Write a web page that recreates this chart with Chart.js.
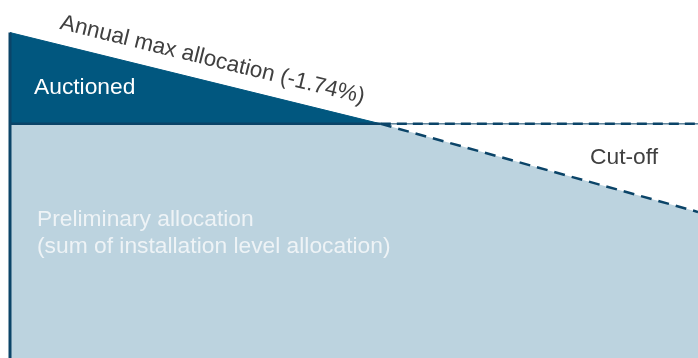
<!DOCTYPE html>
<html>
<head>
<meta charset="utf-8">
<script src="https://cdn.jsdelivr.net/npm/chart.js@4"></script>
<style>
  html, body { margin: 0; padding: 0; background: #ffffff; }
  canvas { display: block; }
</style>
</head>
<body>
<canvas id="chart" width="698" height="358"></canvas>
<script>
// Eje x: periodo (0 = inicio, corte = fin de la subasta, 100 = final)
const startPeriod = 0;
const cutPeriod = 53.9;
const endPeriod = 100;

// Series
const maxAllocation = [90.9, 65.4];          // en startPeriod y cutPeriod
const preliminary = [65.4, 65.4, 40.8];      // en start, cut y end
const cutOffLevel = [65.4, 65.4];            // en cutPeriod y endPeriod

// Textos
const auctionedLabel = "Auctioned";
const slopeLabel = "Annual max allocation (-1.74%)";
const preliminaryLabel = ["Preliminary allocation", "(sum of installation level allocation)"];
const cutOffLabel = "Cut-off";

const DARK = "#01577f";
const EDGE = "#0b4468";
const LIGHT = "#bcd3df";
const FONT = "22.8px 'Liberation Sans', Arial, sans-serif";
const SLOPE_FONT = "22.5px 'Liberation Sans', Arial, sans-serif";

// Plugin para dibujar los textos sobre el gráfico
const textPlugin = {
    id: "texts",
    afterDatasetsDraw(chart) {
        const ctx = chart.ctx;
        const x = chart.scales.x;
        const y = chart.scales.y;
        ctx.save();
        ctx.font = FONT;
        ctx.textBaseline = "alphabetic";
        ctx.textAlign = "left";

        ctx.fillStyle = "#ffffff";
        ctx.fillText(auctionedLabel, 34, 94);

        ctx.fillStyle = "#eef3f6";
        ctx.fillText(preliminaryLabel[0], 37, 226);
        ctx.fillText(preliminaryLabel[1], 37, 253);

        ctx.fillStyle = "#404040";
        ctx.fillText(cutOffLabel, 590, 164);

        // Texto inclinado siguiendo la línea de asignación máxima
        const x0 = x.getPixelForValue(startPeriod), y0 = y.getPixelForValue(maxAllocation[0]);
        const x1 = x.getPixelForValue(cutPeriod), y1 = y.getPixelForValue(maxAllocation[1]);
        const angle = Math.atan2(y1 - y0, x1 - x0);
        const ax = 55.4;
        const ay = y0 + (ax - x0) * (y1 - y0) / (x1 - x0);
        ctx.font = SLOPE_FONT;
        ctx.translate(ax, ay);
        ctx.rotate(angle);
        ctx.fillText(slopeLabel, 0, -15.5);
        ctx.restore();
    }
};

new Chart(document.getElementById("chart"), {
    type: "line",
    data: {
        datasets: [
            {
                // línea vertical izquierda
                data: [{ x: startPeriod, y: 0 }, { x: startPeriod, y: maxAllocation[0] }],
                borderColor: EDGE,
                borderWidth: 3,
                pointRadius: 0,
                fill: false,
                order: 0
            },
            {
                // nivel de corte (horizontal discontinua)
                data: [{ x: cutPeriod, y: cutOffLevel[0] }, { x: endPeriod, y: cutOffLevel[1] }],
                borderColor: EDGE,
                borderWidth: 2.5,
                borderDash: [10, 6],
                pointRadius: 0,
                fill: false,
                order: 1
            },
            {
                // línea fina bajo el nivel de corte
                data: [{ x: cutPeriod, y: cutOffLevel[0] }, { x: endPeriod, y: cutOffLevel[1] }],
                borderColor: EDGE,
                borderWidth: 1,
                pointRadius: 0,
                fill: false,
                order: 2
            },
            {
                // borde superior de la asignación preliminar (tramo continuo)
                data: [{ x: startPeriod, y: preliminary[0] }, { x: cutPeriod, y: preliminary[1] }],
                borderColor: EDGE,
                borderWidth: 2.5,
                pointRadius: 0,
                fill: false,
                order: 3
            },
            {
                // borde superior de la asignación preliminar (tramo discontinuo)
                data: [{ x: cutPeriod, y: preliminary[1] }, { x: endPeriod, y: preliminary[2] }],
                borderColor: EDGE,
                borderWidth: 2.5,
                borderDash: [11, 7],
                pointRadius: 0,
                fill: false,
                order: 4
            },
            {
                // relleno de la asignación preliminar
                data: [
                    { x: startPeriod, y: preliminary[0] },
                    { x: cutPeriod, y: preliminary[1] },
                    { x: endPeriod, y: preliminary[2] }
                ],
                borderWidth: 0,
                borderColor: "rgba(0,0,0,0)",
                backgroundColor: LIGHT,
                pointRadius: 0,
                tension: 0,
                fill: "origin",
                order: 5
            },
            {
                // asignación máxima anual (subastado)
                data: [{ x: startPeriod, y: maxAllocation[0] }, { x: cutPeriod, y: maxAllocation[1] }],
                borderColor: DARK,
                backgroundColor: DARK,
                borderWidth: 1,
                pointRadius: 0,
                tension: 0,
                fill: "origin",
                order: 6
            }
        ]
    },
    options: {
        responsive: false,
        animation: false,
        devicePixelRatio: 1,
        layout: { padding: 0 },
        plugins: { legend: { display: false }, tooltip: { enabled: false } },
        scales: {
            x: { type: "linear", min: -1.4535, max: 100, display: false },
            y: { min: 0, max: 100, display: false }
        }
    },
    plugins: [textPlugin]
});
</script>
</body>
</html>
